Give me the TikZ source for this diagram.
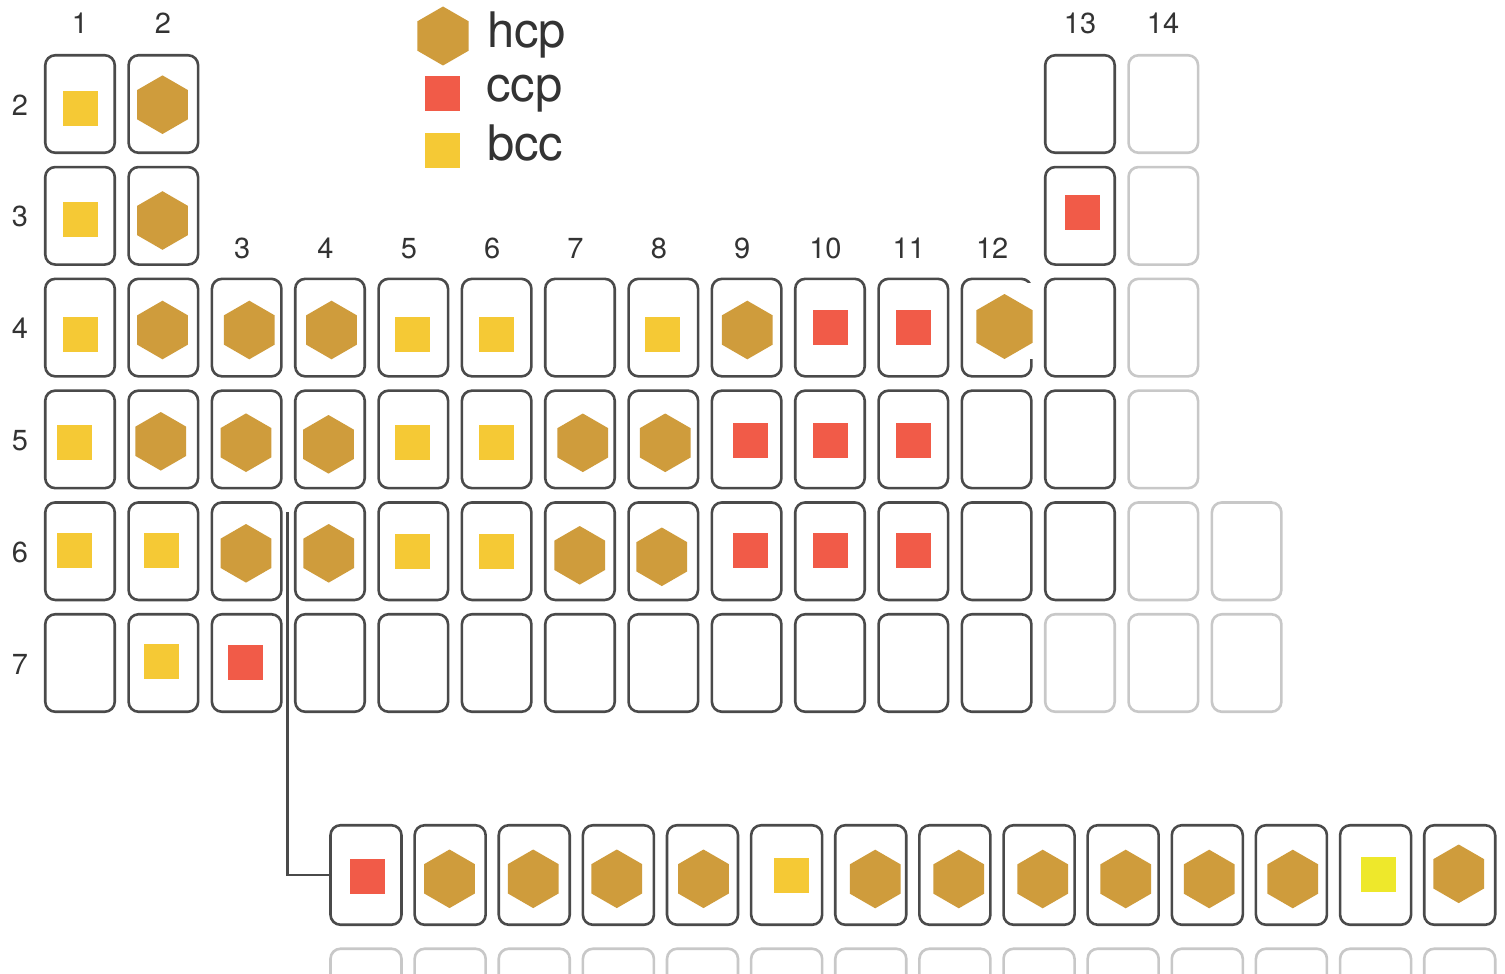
\documentclass[tikz,border=0pt]{standalone}
\usepackage{fontspec}
\setmainfont{TeX Gyre Heros}
\usetikzlibrary{shapes.geometric}
\definecolor{hcpc}{HTML}{CF9C3C}
\definecolor{ccpc}{HTML}{F15B48}
\definecolor{bccc}{HTML}{F5C935}
\definecolor{brightc}{HTML}{EEE82B}
\definecolor{cellc}{HTML}{4A4A4A}
\definecolor{faintc}{HTML}{C8C8C8}
\definecolor{txtc}{HTML}{333333}
\begin{document}
\begin{tikzpicture}[x=1pt,y=-1pt,
 cellbox/.style={rectangle, rounded corners=10pt, minimum width=69.5pt, minimum height=97.5pt, draw=cellc, line width=2.6pt, inner sep=0pt, fill=white},
 faintbox/.style={cellbox, draw=faintc},
 lanbox/.style={cellbox, minimum width=71pt, minimum height=99.5pt},
 lanfaint/.style={lanbox, draw=faintc},
 hcp/.style={regular polygon, regular polygon sides=6, shape border rotate=30, fill=hcpc, minimum size=58.6pt, inner sep=0pt},
 bighcp/.style={hcp, minimum size=65pt},
 ccp/.style={rectangle, fill=ccpc, minimum size=35pt, inner sep=0pt},
 bcc/.style={ccp, fill=bccc},
 bright/.style={ccp, fill=brightc},
 lbl/.style={text=txtc, font=\fontsize{29}{29}\selectfont, anchor=base, inner sep=0pt},
 leg/.style={text=txtc, font=\fontsize{49}{49}\selectfont, anchor=base west, inner sep=0pt},
 conn/.style={draw=cellc, line width=2.4pt}
]
\useasboundingbox (0,0) rectangle (1505,974);
\clip (0,0) rectangle (1505,974);
\fill[white] (0,0) rectangle (1505,974);

% main table cells
\foreach \r/\cols in {2/{1,2,13},3/{1,2,13},4/{1,...,13},5/{1,...,13},6/{1,...,13},7/{1,...,12}}{
  \foreach \c in \cols {
    \node[cellbox] (c\r-\c) at ({80+(\c-1)*83.33},{104+(\r-2)*111.8}) {};
  }
}
\foreach \r/\cols in {2/{14},3/{14},4/{14},5/{14},6/{14,15},7/{13,14,15}}{
  \foreach \c in \cols {
    \node[faintbox] (c\r-\c) at ({80+(\c-1)*83.33},{104+(\r-2)*111.8}) {};
  }
}

% shapes in the main table
\foreach \n/\t/\x/\y in {2-1/bcc/80.2/108.5, 2-2/hcp/162.5/104.7,
  3-1/bcc/80.2/219.7, 3-2/hcp/162.5/220.5, 3-13/ccp/1082.3/212.5,
  4-1/bcc/80.2/334, 4-2/hcp/162.5/330, 4-3/hcp/249.3/330, 4-4/hcp/331.5/330,
  4-5/bcc/412.5/334, 4-6/bcc/496.2/334, 4-8/bcc/662.7/334, 4-9/hcp/747.3/330,
  4-10/ccp/830/327.8, 4-11/ccp/913.7/327.8,
  5-1/bcc/74.7/442, 5-2/hcp/160.8/441.3, 5-3/hcp/246/442.7, 5-4/hcp/328.5/444.3,
  5-5/bcc/412.5/442, 5-6/bcc/496.2/442, 5-7/hcp/582.8/442.8, 5-8/hcp/665.2/442.8,
  5-9/ccp/750.2/440.7, 5-10/ccp/830/440.7, 5-11/ccp/913.7/440.7,
  6-1/bcc/74.7/550.2, 6-2/bcc/161.3/550.2, 6-3/hcp/246/553.3, 6-4/hcp/328.7/553.3,
  6-5/bcc/412.5/551.7, 6-6/bcc/496.2/551.7, 6-7/hcp/579.7/555.3, 6-8/hcp/661.8/556.8,
  6-9/ccp/750.2/550.3, 6-10/ccp/830/550.3, 6-11/ccp/913.7/550.3,
  7-2/bcc/161.3/661.3, 7-3/ccp/245.2/662.8}{
  \node[\t] (s\n) at (\x,\y) {};
}
% zinc: larger hexagon on a white patch
\fill[white] (966,283) rectangle (1042.3,359);
\node[bighcp] (s4-12) at (1004.5,326.5) {};

% lanthanide row
\foreach \i in {0,...,13}{
  \node[lanbox] (la\i) at ({366+84.13*\i},875) {};
  \node[lanfaint] (lb\i) at ({366+84.13*\i},998.5) {};
}
\foreach \n/\t/\x/\y in {0/ccp/367.7/876.3, 1/hcp/449.5/878.8, 2/hcp/533.2/878.8,
  3/hcp/616.8/878.8, 4/hcp/703.5/878.8, 5/bcc/791.8/875, 6/hcp/875.2/879,
  7/hcp/958.8/879, 8/hcp/1042.7/879, 9/hcp/1125.7/879, 10/hcp/1209.2/879,
  11/hcp/1292.8/879, 12/bright/1378/874.8, 13/hcp/1458.7/873.8}{
  \node[\t] (ls\n) at (\x,\y) {};
}

% connector
\coordinate (jn) at (287.3,512);
\draw[conn] (jn) |- (la0.west);

% column labels
\node[lbl] (g1) at (80,34) {1};
\node[lbl] (g2) at (163,34) {2};
\node[lbl] (g13) at (1080,34) {13};
\node[lbl] (g14) at (1163,34) {14};
\foreach \c in {3,...,12}{
  \node[lbl] (g\c) at ({80+(\c-1)*83.33-4.5},258) {\c};
}
% row labels
\foreach \r in {2,...,7}{
  \node[lbl] (p\r) at (20,{104+(\r-2)*111.8+11}) {\r};
}

% legend
\node[hcp, minimum size=59pt] (lg-hcp) at (443,36) {};
\node[ccp] (lg-ccp) at (442.5,93.5) {};
\node[bcc] (lg-bcc) at (442.5,150.5) {};
\node[leg] (lt-hcp) at (487,48) {hcp};
\node[leg] (lt-ccp) at (486,101) {ccp};
\node[leg] (lt-bcc) at (487,160) {bcc};
\end{tikzpicture}
\end{document}
